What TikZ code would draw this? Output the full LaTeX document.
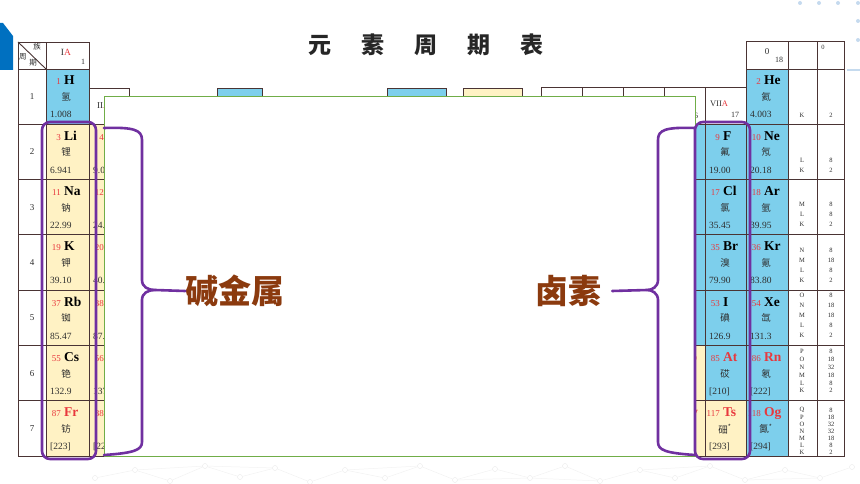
\documentclass[tikz,border=0pt]{standalone}
\usepackage{fontspec}
\setmainfont{Liberation Serif}
\newfontfamily\cjk{Noto Sans CJK SC}
\usepackage{tikz}
\usetikzlibrary{positioning}

\definecolor{cellblue}{HTML}{7DCFEC}
\definecolor{cellyellow}{HTML}{FFF2C4}
\definecolor{gridline}{HTML}{4A3434}
\definecolor{bracepurple}{HTML}{7030A0}
\definecolor{labelbrown}{HTML}{8B3A0E}
\definecolor{numred}{HTML}{E8383D}
\definecolor{framegreen}{HTML}{70AD47}
\definecolor{cornerblue}{HTML}{0070C0}
\definecolor{textgrey}{HTML}{2E2E2E}
\definecolor{dotblue}{HTML}{C5DAEE}

\tikzset{
    cell/.style={draw=gridline, line width=0.9pt},
    num/.style={font=\fontsize{9}{9}\selectfont, text=numred, inner sep=0pt},
    sym/.style={font=\bfseries\fontsize{13.5}{14}\selectfont, inner sep=0pt},
    cn/.style={font=\cjk\fontsize{9.5}{10}\selectfont, text=textgrey, inner sep=0pt},
    mass/.style={font=\fontsize{9.5}{10}\selectfont, text=textgrey, inner sep=0pt},
    small/.style={font=\fontsize{8}{8}\selectfont, text=textgrey, inner sep=0pt},
    shell/.style={font=\fontsize{6.5}{7}\selectfont, text=textgrey, inner sep=0pt},
    title/.style={font=\cjk\bfseries\fontsize{23}{23}\selectfont, text=black!85, inner sep=0pt},
    tag/.style={font=\cjk\bfseries\fontsize{33}{33}\selectfont, text=labelbrown, inner sep=0pt},
    groupbox/.style={draw=bracepurple, line width=2.6pt, rounded corners=8pt},
    curlyline/.style={draw=bracepurple, line width=2.6pt, line cap=round, line join=round},
    netdot/.style={circle, draw=gray!18, inner sep=0pt, minimum size=5pt},
    netline/.style={draw=gray!10, line width=0.5pt}
}

% one element: id, x, y (top left), number, symbol, name, mass, symbol colour
\newcommand{\elem}[8]{%
    \node[num, anchor=base east] (#1-num) at ({#2+15},{#3+16}) {#4};
    \node[sym, anchor=base west, text=#8] (#1-sym) at ({#2+18},{#3+16}) {#5};
    \node[cn] (#1-cn) at ({#2+20},{#3+28}) {#6};
    \node[mass, anchor=base west] (#1-mass) at ({#2+4},{#3+49}) {#7};
}

\begin{document}
\begin{tikzpicture}[x=1pt, y=-1pt]
    \useasboundingbox (0,0) rectangle (860,484);

    % corner marks
    \fill[cornerblue] (0,23) -- (3,23) -- (13,36) -- (13,70) -- (0,70) -- cycle;
    \foreach \x/\y [count=\i] in {800/3, 819/3, 838/3, 858/3, 858/21, 858/40}
        \node[circle, fill=dotblue, inner sep=0pt, minimum size=4pt] (tr-\i) at (\x,\y) {};
    \draw[dotblue, line width=1.5pt] (847,70) -- (860,70);

    % title
    \node[title] (t1) at (320,45) {元};
    \node[title, right=29.5pt of t1] (t2) {素};
    \node[title, right=29.5pt of t2] (t3) {周};
    \node[title, right=29.5pt of t3] (t4) {期};
    \node[title, right=29.5pt of t4] (t5) {表};

    % left block: header and periods
    \draw[cell] (18,42) rectangle (46,69);
    \draw[cell] (18,42) -- (46,69);
    \node[small, font=\cjk\fontsize{7.5}{8}\selectfont] (h-zu) at (37,47) {族};
    \node[small, font=\cjk\fontsize{7.5}{8}\selectfont] (h-zhou) at (23,57) {周};
    \node[small, font=\cjk\fontsize{7.5}{8}\selectfont] (h-qi) at (33,63) {期};
    \draw[cell] (46,42) rectangle (89,69);
    \node[small, font=\fontsize{9.5}{10}\selectfont] (ia-head) at (66,52) {I\textcolor{numred}{A}};
    \node[small] (ia-no) at (83,62) {1};
    \foreach \r [evaluate=\r as \yt using 69+55.3*(\r-1)] in {1,...,7} {
        \draw[cell] (18,\yt) rectangle ++(28,55.3);
        \node[small, font=\fontsize{9}{9}\selectfont] (per-\r) at (32,{\yt+27.6}) {\r};
    }
    \foreach \id/\z/\cn/\m/\sc/\f [count=\r] in {
        H/1/氢/1.008/black/cellblue, Li/3/锂/6.941/black/cellyellow,
        Na/11/钠/22.99/black/cellyellow, K/19/钾/39.10/black/cellyellow,
        Rb/37/铷/85.47/black/cellyellow, Cs/55/铯/132.9/black/cellyellow,
        Fr/87/钫/[223]/numred/cellyellow} {
        \pgfmathsetmacro\yt{69+55.3*(\r-1)}
        \draw[cell, fill=\f] (46,\yt) rectangle ++(43,55.3);
        \elem{\id}{46}{\yt}{\z}{\id}{\cn}{\m}{\sc}
    }

    % IIA column (mostly covered)
    \draw[cell] (89,88) rectangle (129,124.3);
    \node[small, anchor=west, font=\fontsize{9}{9}\selectfont] (iia-head) at (97,106) {II\textcolor{numred}{A}};
    \node[small] (iia-no) at (123,116) {2};
    \foreach \id/\z/\cn/\m/\sc [count=\i] in {
        Be/4/铍/9.012/black, Mg/12/镁/24.31/black, Ca/20/钙/40.08/black,
        Sr/38/锶/87.62/black, Ba/56/钡/137.3/black, Ra/88/镭/[226]/numred} {
        \pgfmathsetmacro\yt{69+55.3*\i}
        \draw[cell, fill=cellyellow] (89,\yt) rectangle ++(40,55.3);
        \elem{\id}{89}{\yt}{\z}{\id}{\cn}{\m}{\sc}
    }

    % legend boxes and group headers behind the panel
    \draw[cell, fill=cellblue] (217,88) rectangle (262,110);
    \draw[cell, fill=cellblue] (387,88) rectangle (446,110);
    \draw[cell, fill=cellyellow] (463,88) rectangle (522,110);
    \foreach \x in {541,582,623,664}
        \draw[cell] (\x,87) rectangle ++(41,37.3);
    \node[small] (via-no) at (694,116) {16};

    % VIA column (mostly covered)
    \foreach \id/\z/\cn/\m/\sc/\f [count=\i] in {
        O/8/氧/16.00/black/cellblue, S/16/硫/32.06/black/cellblue,
        Se/34/硒/78.97/black/cellblue, Te/52/碲/127.6/black/cellblue,
        Po/84/钋/[209]/numred/cellyellow, Lv/116/鉝/[293]/numred/cellyellow} {
        \pgfmathsetmacro\yt{69+55.3*\i}
        \draw[cell, fill=\f] (664,\yt) rectangle ++(41,55.3);
        \elem{\id}{664}{\yt}{\z}{\id}{\cn}{\m}{\sc}
    }

    % VIIA column
    \draw[cell] (705,87) rectangle (746,124.3);
    \node[small, font=\fontsize{8.5}{9}\selectfont] (viia-head) at (719,104) {VII\textcolor{numred}{A}};
    \node[small] (viia-no) at (735,115) {17};
    \foreach \id/\z/\cn/\m/\sc/\f [count=\i] in {
        F/9/氟/19.00/black/cellblue, Cl/17/氯/35.45/black/cellblue,
        Br/35/溴/79.90/black/cellblue, I/53/碘/126.9/black/cellblue,
        At/85/砹/[210]/numred/cellblue, Ts/117/{鿬\textsuperscript{*}}/[293]/numred/cellyellow} {
        \pgfmathsetmacro\yt{69+55.3*\i}
        \draw[cell, fill=\f] (705,\yt) rectangle ++(41,55.3);
        \elem{\id}{705}{\yt}{\z}{\id}{\cn}{\m}{\sc}
    }

    % group 0 and shells
    \draw[cell] (746,41) rectangle (788,69);
    \draw[cell] (788,41) rectangle (817,69);
    \draw[cell] (817,41) rectangle (844,69);
    \node[small, font=\fontsize{9}{9}\selectfont] (zero-head) at (767,52) {0};
    \node[small] (zero-no) at (779,60) {18};
    \node[shell] (elec-head) at (823,47) {0};
    \foreach \id/\z/\cn/\m/\sc [count=\r] in {
        He/2/氦/4.003/black, Ne/10/氖/20.18/black, Ar/18/氩/39.95/black,
        Kr/36/氪/83.80/black, Xe/54/氙/131.3/black, Rn/86/氡/[222]/numred,
        Og/118/{鿫\textsuperscript{*}}/[294]/numred} {
        \pgfmathsetmacro\yt{69+55.3*(\r-1)}
        \draw[cell, fill=cellblue] (746,\yt) rectangle ++(42,55.3);
        \draw[cell] (788,\yt) rectangle ++(29,55.3);
        \draw[cell] (817,\yt) rectangle ++(27,55.3);
        \elem{\id}{746}{\yt}{\z}{\id}{\cn}{\m}{\sc}
    }
    % shell letters and electrons, listed from K upwards
    \foreach \r/\shl/\ele/\off/\sp in {
        1/{K}/{2}/9/10, 2/{K,L}/{2,8}/9/10, 3/{K,L,M}/{2,8,8}/11/10,
        4/{K,L,M,N}/{2,8,18,8}/10/10, 5/{K,L,M,N,O}/{2,8,18,18,8}/10/10,
        6/{K,L,M,N,O,P}/{2,8,18,32,18,8}/10/7.8,
        7/{K,L,M,N,O,P,Q}/{2,8,18,32,32,18,8}/4/7} {
        \pgfmathsetmacro\yb{69+55.3*\r}
        \foreach \l [count=\i] in \shl
            \node[shell] (shell-\r-\i) at (802,{\yb-\off-(\i-1)*\sp}) {\l};
        \foreach \e [count=\i] in \ele
            \node[shell] (elec-\r-\i) at (831,{\yb-\off-(\i-1)*\sp}) {\e};
    }

    % white panel on top of the table
    \fill[white, draw=framegreen, line width=0.8pt] (104,96) rectangle (695,456);

    % highlighted groups
    \draw[groupbox] (42,122) rectangle (96,459);
    \draw[groupbox] (695,122) rectangle (750,459);

    % braces and labels
    \node[tag] (alkali) at (235,291) {碱金属};
    \node[tag] (halogen) at (568,291) {卤素};
    \coordinate (ltip) at (155,290);
    \coordinate (rtip) at (647,290);
    \draw[curlyline] (104,128) .. controls (134,127) and (142,130) .. (142,140) -- (142,280)
        .. controls (142,287) and (148,290) .. (ltip)
        .. controls (148,290) and (142,293) .. (142,300) -- (142,442)
        .. controls (142,450) and (134,453) .. (104,455);
    \draw[curlyline] (ltip) -- (alkali.west);
    \draw[curlyline] (695,128) .. controls (665,127) and (658,130) .. (658,140) -- (658,280)
        .. controls (658,287) and (652,290) .. (rtip)
        .. controls (652,290) and (658,293) .. (658,300) -- (658,442)
        .. controls (658,450) and (665,453) .. (695,455);
    \draw[curlyline] (rtip) -- ([xshift=11pt]halogen.east);

    % faint network along the bottom
    \foreach \x/\y [count=\i] in {
        95/478, 135/470, 170/481, 205/466, 240/477, 275/468, 310/482, 345/470,
        385/478, 420/466, 455/480, 495/469, 530/478, 565/466, 600/481, 640/470,
        675/478, 710/466, 745/480, 785/470, 820/478, 852/467}
        \node[netdot] (dot-\i) at (\x,\y) {};
    \foreach \a/\b in {1/2,2/3,3/4,4/5,5/6,6/7,7/8,8/9,9/10,10/11,11/12,12/13,13/14,
        14/15,15/16,16/17,17/18,18/19,19/20,20/21,21/22,2/4,4/6,8/10,11/13,13/15,16/18,19/21}
        \draw[netline] (dot-\a) -- (dot-\b);
\end{tikzpicture}
\end{document}
